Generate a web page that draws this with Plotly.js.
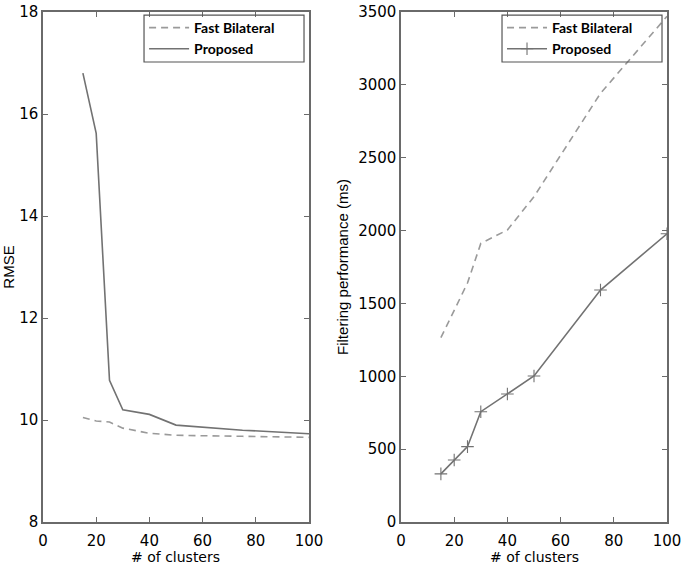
<!DOCTYPE html>
<html>
<head>
<meta charset="utf-8">
<script src="https://cdn.plot.ly/plotly-3.0.1.min.js"></script>
<style>html,body{margin:0;padding:0;background:#fff;}#chart{width:685px;height:564px;}</style>
</head>
<body>
<div id="chart"></div>
<script>
// Shared x values (# of clusters)
const clusters = [15, 20, 25, 30, 40, 50, 75, 100];

// Left panel: RMSE
const rmseFast = [10.05, 9.98, 9.96, 9.84, 9.74, 9.70, 9.68, 9.66];
const rmseProposed = [16.8, 15.62, 10.78, 10.2, 10.11, 9.9, 9.8, 9.73];

// Right panel: Filtering performance (ms)
const timeFast = [1265, 1455, 1640, 1912, 2004, 2233, 2942, 3470];
const timeProposed = [330, 425, 517, 757, 878, 1002, 1592, 1978];

const xTicks = [0, 20, 40, 60, 80, 100];
const rmseTicks = [8, 10, 12, 14, 16, 18];
const timeTicks = [0, 500, 1000, 1500, 2000, 2500, 3000, 3500];
const xTitle = '# of clusters';

const fastColor = '#9a9a9a';
const propColor = '#727272';
const axisColor = '#6a6a6a';
const tickFont = {family: '"DejaVu Sans", sans-serif', size: 15, color: '#000'};
const xTitleFont = {family: '"DejaVu Sans", sans-serif', size: 14, color: '#000'};
const yTitleFont = {family: '"Liberation Sans", Arial, sans-serif', size: 15, color: '#000'};
const legendFont = {family: 'Lato, "Open Sans", sans-serif', size: 14, color: '#000', weight: 'bold'};

const traces = [
  {x: clusters, y: rmseFast, name: 'Fast Bilateral', type: 'scatter', mode: 'lines',
   line: {color: fastColor, width: 1.6, dash: '7px,5px'}, xaxis: 'x', yaxis: 'y', legend: 'legend'},
  {x: clusters, y: rmseProposed, name: 'Proposed', type: 'scatter', mode: 'lines',
   line: {color: propColor, width: 1.6}, xaxis: 'x', yaxis: 'y', legend: 'legend'},
  {x: clusters, y: timeFast, name: 'Fast Bilateral', type: 'scatter', mode: 'lines',
   line: {color: fastColor, width: 1.6, dash: '7px,5px'}, xaxis: 'x2', yaxis: 'y2', legend: 'legend2'},
  {x: clusters, y: timeProposed, name: 'Proposed', type: 'scatter', mode: 'lines+markers',
   line: {color: propColor, width: 1.6},
   marker: {symbol: 'cross-thin-open', size: 9, line: {color: '#333', width: 1.1}},
   xaxis: 'x2', yaxis: 'y2', legend: 'legend2'}
];

function xAxis(domain, anchor) {
  return {domain: domain, anchor: anchor, range: [0, 100], tickvals: xTicks, ticktext: xTicks.map(String),
    ticks: 'inside', ticklen: 5, tickcolor: axisColor, showline: true, linecolor: axisColor, linewidth: 1.6,
    mirror: 'ticks', showgrid: false, zeroline: false, tickfont: tickFont, ticklabelstandoff: 4};
}
function yAxis(range, vals, anchor, title) {
  return {anchor: anchor, range: range, tickvals: vals, ticktext: vals.map(String),
    ticks: 'inside', ticklen: 5, tickcolor: axisColor, showline: true, linecolor: axisColor, linewidth: 1.6,
    mirror: 'ticks', showgrid: false, zeroline: false, tickfont: tickFont,
    title: {text: title, font: yTitleFont, standoff: 6}};
}

const boxLine = {color: '#555', width: 1.2};
const layout = {
  width: 685, height: 564,
  margin: {l: 43, r: 18, t: 12, b: 42},
  paper_bgcolor: '#fff', plot_bgcolor: '#fff',
  showlegend: true,
  xaxis: xAxis([0, 0.4263], 'y'),
  yaxis: yAxis([8, 18], rmseTicks, 'x', 'RMSE'),
  xaxis2: xAxis([0.5737, 1], 'y2'),
  yaxis2: yAxis([0, 3500], timeTicks, 'x2', 'Filtering performance (ms)'),
  legend: {x: 0.162, y: 1.0, xanchor: 'left', yanchor: 'top', bgcolor: 'rgba(0,0,0,0)',
    borderwidth: 0, font: legendFont, tracegroupgap: 0, itemwidth: 40},
  legend2: {x: 0.7356, y: 1.0, xanchor: 'left', yanchor: 'top', bgcolor: 'rgba(0,0,0,0)',
    borderwidth: 0, font: legendFont, tracegroupgap: 0, itemwidth: 40},
  annotations: [
    {text: xTitle, xref: 'paper', yref: 'paper', x: 0.2131, y: -0.0686, xanchor: 'center', yanchor: 'middle', showarrow: false, font: xTitleFont},
    {text: xTitle, xref: 'paper', yref: 'paper', x: 0.7869, y: -0.0686, xanchor: 'center', yanchor: 'middle', showarrow: false, font: xTitleFont}
  ],
  shapes: [
    {type: 'rect', xref: 'paper', yref: 'paper', x0: 0.1619, x1: 0.4183, y0: 0.902, y1: 0.994, line: boxLine, fillcolor: 'rgba(0,0,0,0)'},
    {type: 'rect', xref: 'paper', yref: 'paper', x0: 0.7356, x1: 0.9920, y0: 0.902, y1: 0.994, line: boxLine, fillcolor: 'rgba(0,0,0,0)'}
  ]
};

Plotly.newPlot('chart', traces, layout, {displayModeBar: false, staticPlot: true});
</script>
</body>
</html>
